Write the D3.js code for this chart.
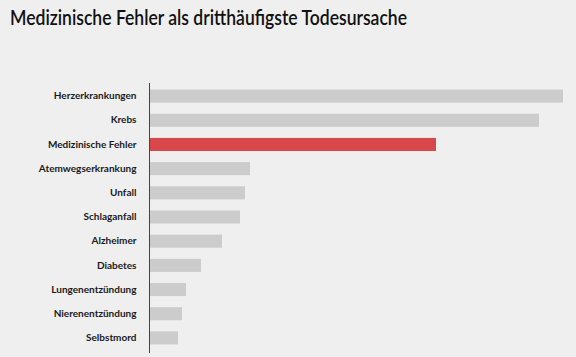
<!DOCTYPE html>
<html>
<head>
<meta charset="utf-8">
<script src="https://cdn.jsdelivr.net/npm/d3@7"></script>
<style>
  html, body { margin: 0; padding: 0; background: #efefef; }
  svg { display: block; }
</style>
</head>
<body>
<svg id="chart" width="576" height="357"></svg>
<script>
const title = "Medizinische Fehler als dritthäufigste Todesursache";
const categories = ["Herzerkrankungen", "Krebs", "Medizinische Fehler", "Atemwegserkrankung", "Unfall", "Schlaganfall", "Alzheimer", "Diabetes", "Lungenentzündung", "Nierenentzündung", "Selbstmord"];
const values = [413, 389, 286, 100, 95, 90, 72, 51, 36, 32, 28];
const highlight = ["Medizinische Fehler"];

const W = 576, H = 357;
const svg = d3.select("#chart");
svg.append("rect").attr("width", W).attr("height", H).attr("fill", "#efefef");

const t = svg.append("text")
  .attr("x", 10).attr("y", 25)
  .attr("font-family", "Lato, 'Open Sans', sans-serif")
  .attr("font-size", 20.5).attr("font-weight", 600)
  .attr("fill", "#111")
  .text(title);
const tl = t.node().getComputedTextLength();
if (Math.abs(tl - 397) > 4) t.attr("textLength", 397).attr("lengthAdjust", "spacingAndGlyphs");

const x = d3.scaleLinear().domain([0, 413]).range([150, 563]);
const y = d3.scaleBand().domain(categories).range([84, 350]).paddingInner(0.46).paddingOuter(0.23);

const data = categories.map((c, i) => ({c, v: values[i]}));

svg.append("g").selectAll("rect").data(data).join("rect")
  .attr("x", x(0))
  .attr("y", d => y(d.c))
  .attr("width", d => x(d.v) - x(0))
  .attr("height", y.bandwidth())
  .attr("fill", d => highlight.includes(d.c) ? "#d8474a" : "#cccccc");

const yAxis = d3.axisLeft(y).tickSize(0).tickPadding(13);
const ga = svg.append("g").attr("transform", `translate(${149.5},0)`).call(yAxis);
ga.select(".domain").remove();
ga.selectAll("text")
  .attr("font-family", "Lato, 'Open Sans', sans-serif")
  .attr("font-size", 10).attr("font-weight", 700)
  .attr("fill", "#1a1a1a");

svg.append("line")
  .attr("x1", 149.5).attr("x2", 149.5)
  .attr("y1", 83).attr("y2", 353)
  .attr("stroke", "#444").attr("stroke-width", 1);
</script>
</body>
</html>
